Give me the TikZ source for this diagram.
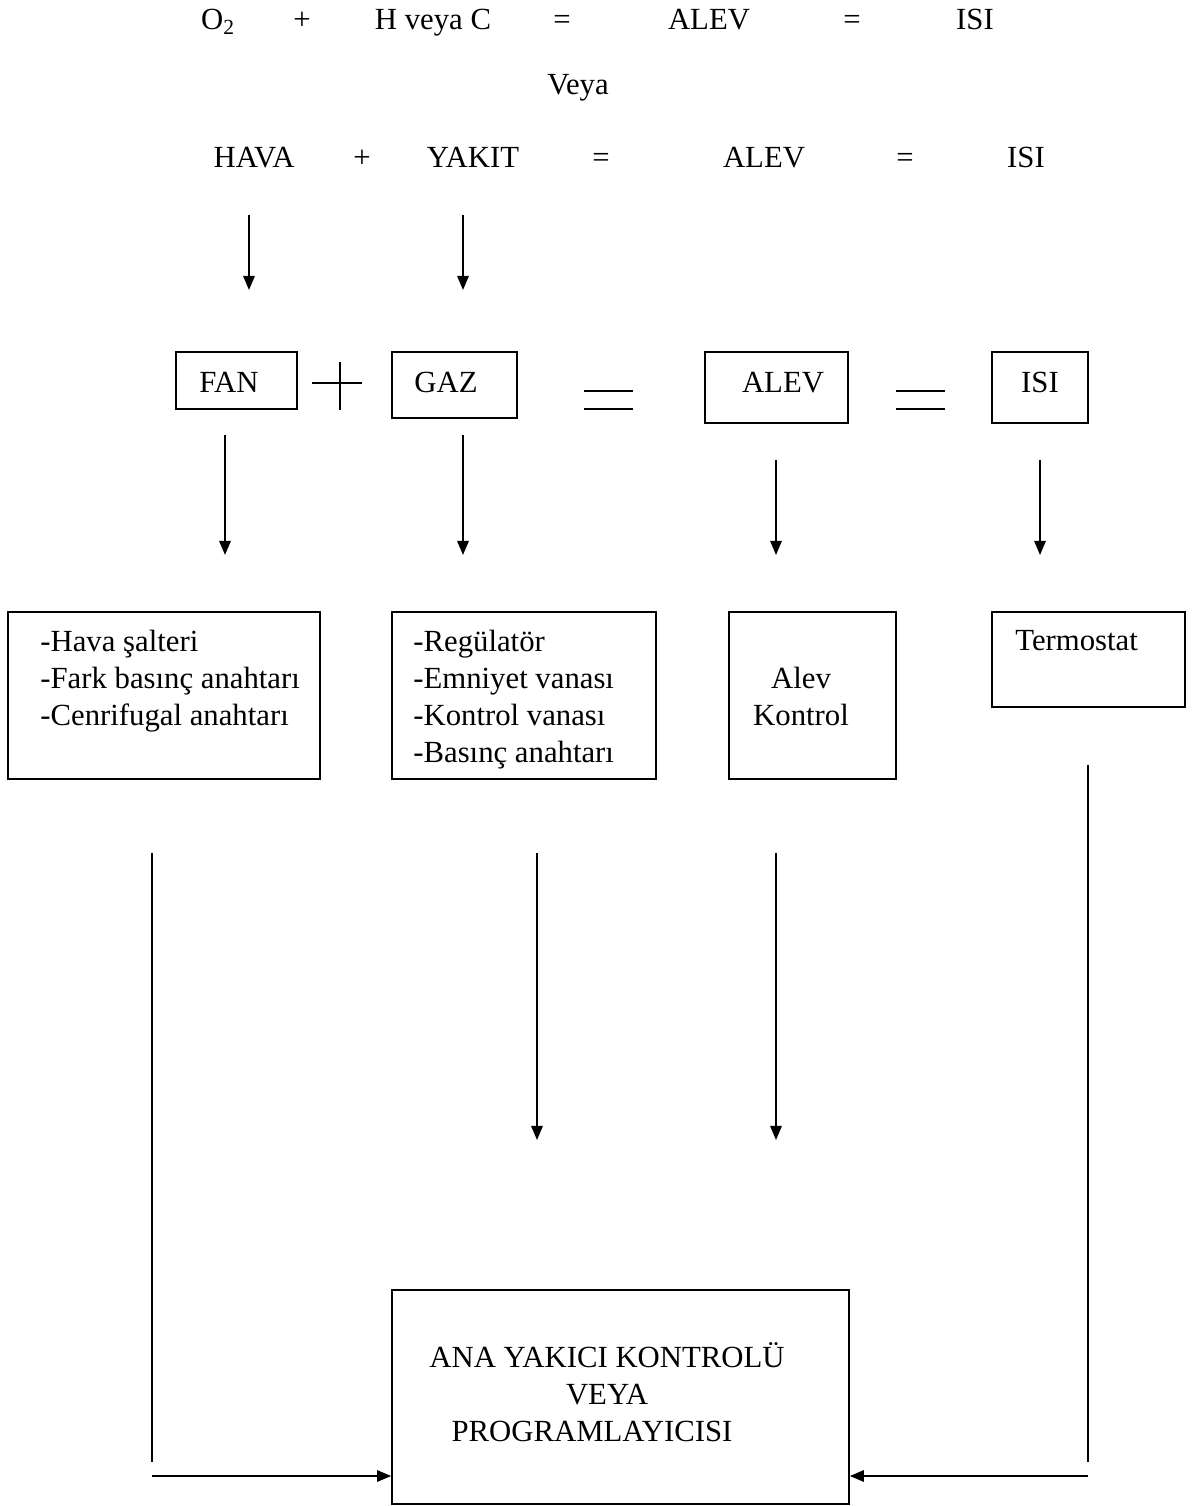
\documentclass[tikz,border=0pt]{standalone}
\usepackage{fontspec}
\setmainfont{Liberation Serif}
\usetikzlibrary{calc, arrows.meta}
\tikzset{
    yazi/.style={font=\fontsize{17.5}{21}\selectfont, inner sep=0pt},
    kutu/.style={draw, line width=1pt, inner sep=0pt},
    ok/.style={line width=1pt, -{Triangle[length=8pt,width=6.5pt]}}
}
\begin{document}
\begin{tikzpicture}[x=0.02cm,y=-0.02cm]
                \useasboundingbox (0,0) rectangle (1201,1506);
                \foreach \t/\x in {O\textsubscript{2}/218, +/302, H veya C/433, =/562, ALEV/709, =/852, ISI/975}{
                    \node[yazi, anchor=base] at (\x,30) {\t};
                }
                \node[yazi, anchor=base] (veya) at (578,95) {Veya};
                \foreach \t/\x in {HAVA/254, +/362, YAKIT/473, =/601, ALEV/764, =/905, ISI/1026}{
                    \node[yazi, anchor=base] at (\x,168) {\t};
                }
                \node[kutu, minimum width=2.42cm, minimum height=1.14cm] (fan) at (236.5,380.5) {};
                \node[kutu, minimum width=2.5cm, minimum height=1.32cm] (gaz) at (454.5,385) {};
                \node[kutu, minimum width=2.86cm, minimum height=1.42cm] (alev) at (776.5,387.5) {};
                \node[kutu, minimum width=1.92cm, minimum height=1.42cm] (isi) at (1040,387.5) {};
                \node[yazi, anchor=base] (fanyazi) at (229,393) {FAN};
                \node[yazi, anchor=base] (gazyazi) at (446,393) {GAZ};
                \node[yazi, anchor=base] (alevyazi) at (783,393) {ALEV};
                \node[yazi, anchor=base] (isiyazi) at (1040,393) {ISI};
                \draw[line width=1pt] (312,383) -- (362,383) (340,362) -- (340,410);
                \foreach \x in {584,896}{
                    \draw[line width=1pt] (\x,391) -- ++(49,0) (\x,409) -- ++(49,0);
                }
                \node[kutu, minimum width=6.24cm, minimum height=3.34cm] (b1) at (164,695.5) {};
                \node[kutu, minimum width=5.28cm, minimum height=3.34cm] (b2) at (524,695.5) {};
                \node[kutu, minimum width=3.34cm, minimum height=3.34cm] (b3) at (812.5,695.5) {};
                \node[kutu, minimum width=3.86cm, minimum height=1.9cm] (b4) at (1088.5,659.5) {};
                \node[yazi, anchor=north west, align=left] (b1yazi) at (40,630) {-Hava şalteri\\-Fark basınç anahtarı\\-Cenrifugal anahtarı};
                \node[yazi, anchor=north west, align=left] (b2yazi) at (413,630) {-Regülatör\\-Emniyet vanası\\-Kontrol vanası\\-Basınç anahtarı};
                \node[yazi, anchor=north, align=center] (b3yazi) at (801,667) {Alev\\Kontrol};
                \node[yazi, anchor=north west] (b4yazi) at (1015,630) {Termostat};
                \node[kutu, minimum width=9.14cm, minimum height=4.28cm] (ana) at (620.5,1397) {};
                \node[yazi, anchor=base, align=center] (anayazi) at (607,1441) {ANA YAKICI KONTROLÜ\\VEYA\\PROGRAMLAYICISI\hspace{0.6cm}\mbox{}};
                \foreach \x/\a/\b [count=\i] in {249/215/290, 463/215/290, 225/435/555, 463/435/555, 776/460/555, 1040/460/555, 537/853/1140, 776/853/1140}{
                    \coordinate (ust\i) at (\x,\a);
                    \coordinate (alt\i) at (\x,\b);
                    \draw[ok] (ust\i) -- (alt\i);
                }
                \coordinate (solust) at (152,853);
                \coordinate (solalt) at (152,1462);
                \coordinate (sol) at (152,1476);
                \coordinate (sagust) at (1088,765);
                \coordinate (sagalt) at (1088,1462);
                \coordinate (sag) at (1088,1476);
                \draw[line width=1pt] (solust) -- (solalt);
                \draw[line width=1pt] (sagust) -- (sagalt);
                \draw[ok] (sol) -- (sol -| ana.west);
                \draw[ok] (sag) -- (sag -| ana.east);
            \end{tikzpicture}
\end{document}
